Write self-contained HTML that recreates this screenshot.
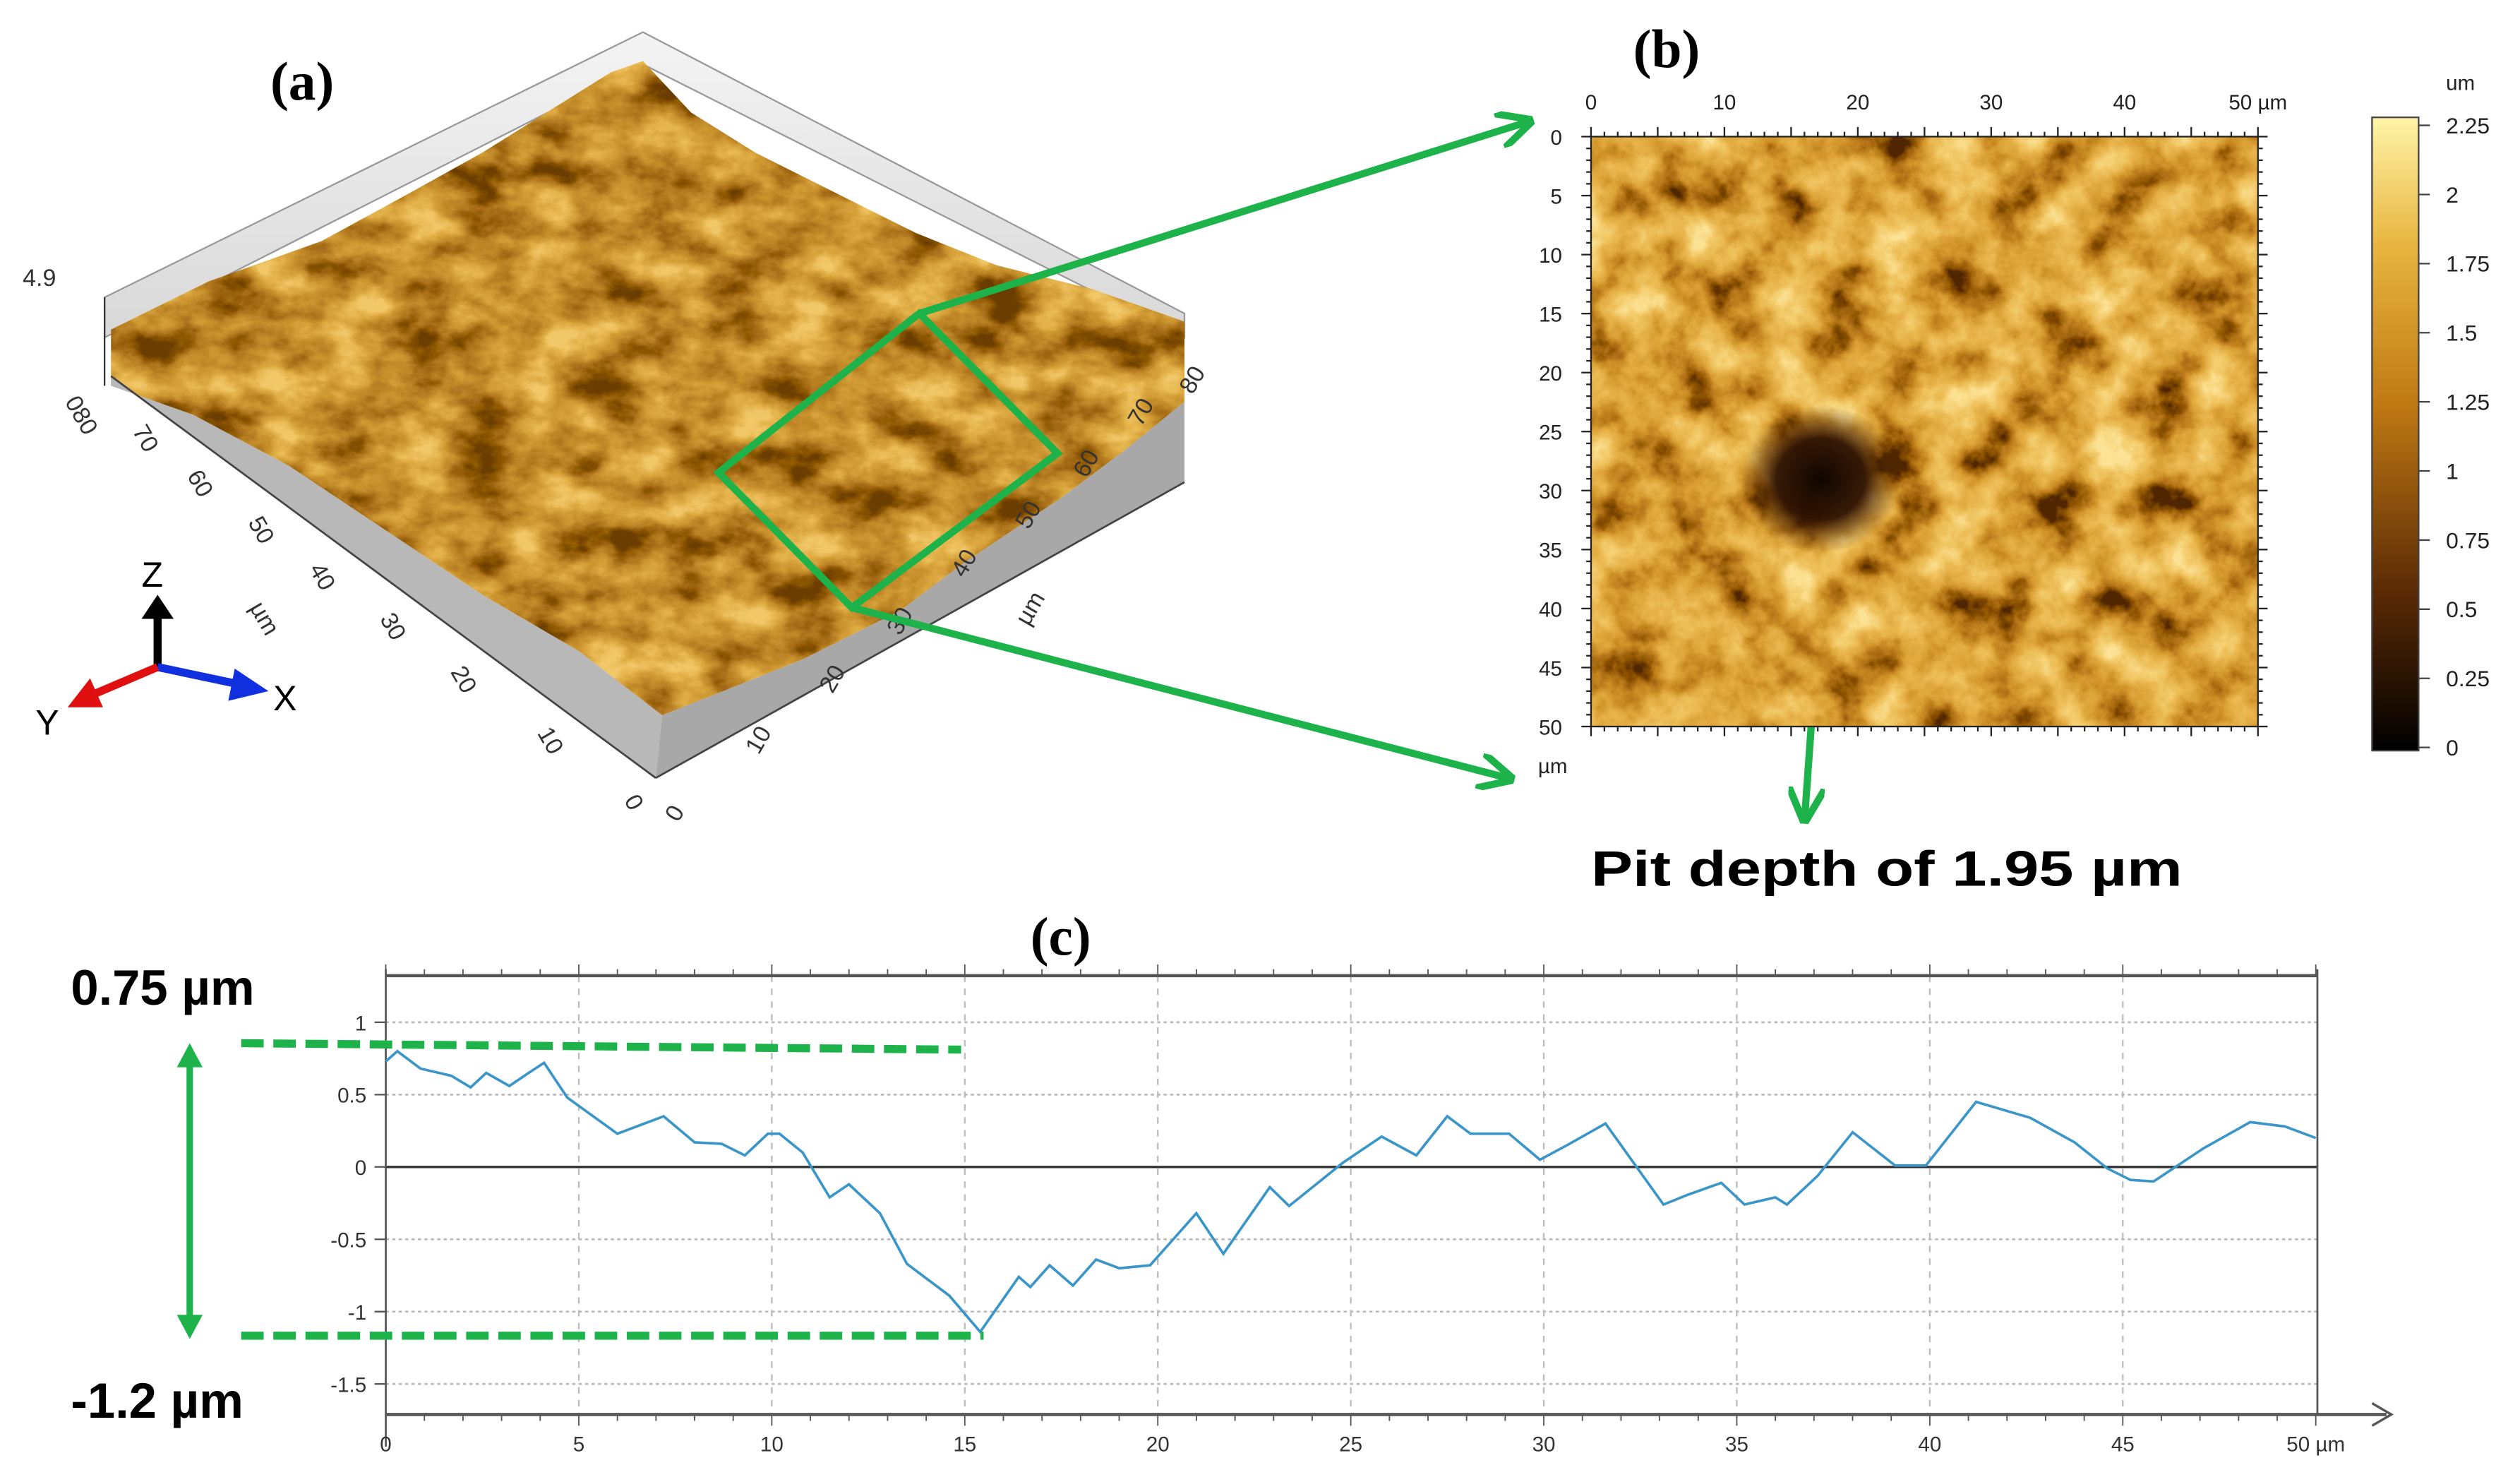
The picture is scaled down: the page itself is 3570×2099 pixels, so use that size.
<!DOCTYPE html>
<html><head><meta charset="utf-8"><style>
html,body{margin:0;padding:0;background:#fff}
svg{display:block}
text{font-family:"Liberation Sans",sans-serif}
.ser{font-family:"Liberation Serif",serif;font-weight:bold}
</style></head><body>
<svg id="fig" width="3570" height="2099" viewBox="0 0 1568 922" xmlns="http://www.w3.org/2000/svg">
<defs>
<filter id="mapTex" x="0" y="0" width="1" height="1">
<feTurbulence type="fractalNoise" baseFrequency="0.03" numOctaves="5" seed="7"/>
<feColorMatrix type="matrix" values="1.6 0 0 0 -0.3 1.6 0 0 0 -0.3 1.6 0 0 0 -0.3 0 0 0 0 1"/>
<feComponentTransfer>
<feFuncR type="table" tableValues="0.08 0.25 0.45 0.6 0.72 0.8 0.86 0.92 0.97"/>
<feFuncG type="table" tableValues="0.02 0.08 0.17 0.27 0.37 0.45 0.54 0.64 0.76"/>
<feFuncB type="table" tableValues="0 0 0.01 0.02 0.04 0.07 0.11 0.18 0.3"/>
<feFuncA type="table" tableValues="1 1"/>
</feComponentTransfer>
<feComposite in2="SourceGraphic" operator="in"/>
</filter>
<filter id="surfTex" x="0" y="0" width="1" height="1">
<feTurbulence type="fractalNoise" baseFrequency="0.025 0.04" numOctaves="5" seed="3"/>
<feColorMatrix type="matrix" values="1.8 0 0 0 -0.4 1.8 0 0 0 -0.4 1.8 0 0 0 -0.4 0 0 0 0 1"/>
<feComponentTransfer>
<feFuncR type="table" tableValues="0.15 0.25 0.38 0.5 0.6 0.7 0.8 0.88"/>
<feFuncG type="table" tableValues="0.05 0.09 0.15 0.23 0.3 0.38 0.47 0.57"/>
<feFuncB type="table" tableValues="0 0 0.01 0.02 0.03 0.05 0.08 0.14"/>
<feFuncA type="table" tableValues="1 1"/>
</feComponentTransfer>
<feComposite in2="SourceGraphic" operator="in"/>
</filter>
<linearGradient id="cbar" x1="0" y1="1" x2="0" y2="0">
<stop offset="0" stop-color="#000"/><stop offset="0.25" stop-color="#5a2a05"/>
<stop offset="0.55" stop-color="#c07a14"/><stop offset="0.8" stop-color="#e8b640"/>
<stop offset="1" stop-color="#fff4a8"/>
</linearGradient>
<radialGradient id="pit"><stop offset="0" stop-color="#100500"/><stop offset="0.55" stop-color="#2e1203" stop-opacity="0.95"/><stop offset="1" stop-color="#5a2e08" stop-opacity="0"/></radialGradient>
<linearGradient id="backwall" x1="0" y1="0" x2="0" y2="1"><stop offset="0" stop-color="#f4f4f4"/><stop offset="1" stop-color="#d8d8d8"/></linearGradient>
<marker id="ga" viewBox="0 0 10 10" refX="8" refY="5" markerWidth="5" markerHeight="5" orient="auto"><path d="M0,0 L10,5 L0,10" fill="none" stroke="#1db34a" stroke-width="2"/></marker>
</defs>

<!-- Panel (a) -->
<g>
<text class="ser" x="188" y="62" font-size="34" text-anchor="middle">(a)</text>
<polygon points="65,185 400,20 737,195 737,210 400,40 65,210" fill="url(#backwall)" stroke="#999" stroke-width="1"/>
<line x1="65" y1="185" x2="65" y2="240" stroke="#333" stroke-width="1"/>
<text x="14" y="178" font-size="15" fill="#333">4.9</text>
<polygon points="69,205 130,175 200,150 255,120 300,95 340,70 380,45 400,38 430,70 470,95 520,120 570,145 620,165 680,180 737,200 737,250 700,280 660,310 600,350 560,380 500,410 450,430 412,445 360,405 300,370 240,330 180,290 120,258 69,240" fill="#b57414" filter="url(#surfTex)"/>
<polygon points="69,240 120,258 180,290 240,330 300,370 360,405 412,445 408,484 69,234" fill="#b8b8b8"/>
<polygon points="412,445 450,430 500,410 560,380 600,350 660,310 700,280 737,250 737,300 408,484" fill="#a8a8a8"/>
<line x1="69" y1="234" x2="408" y2="484" stroke="#444" stroke-width="1.2"/>
<line x1="408" y1="484" x2="737" y2="300" stroke="#444" stroke-width="1.2"/>
<g font-size="15" fill="#333">
<text transform="translate(40,250) rotate(60)">080</text>
<text transform="translate(82,268) rotate(60)">70</text>
<text transform="translate(116,296) rotate(60)">60</text>
<text transform="translate(154,325) rotate(60)">50</text>
<text transform="translate(192,354) rotate(60)">40</text>
<text transform="translate(236,385) rotate(60)">30</text>
<text transform="translate(280,418) rotate(60)">20</text>
<text transform="translate(334,456) rotate(60)">10</text>
<text transform="translate(388,498) rotate(60)">0</text>
<text transform="translate(155,378) rotate(60)">µm</text>
</g>
<g font-size="15" fill="#333">
<text transform="translate(422,512) rotate(-60)">0</text>
<text transform="translate(472,470) rotate(-60)">10</text>
<text transform="translate(518,432) rotate(-60)">20</text>
<text transform="translate(560,396) rotate(-60)">30</text>
<text transform="translate(600,360) rotate(-60)">40</text>
<text transform="translate(640,330) rotate(-60)">50</text>
<text transform="translate(676,298) rotate(-60)">60</text>
<text transform="translate(710,266) rotate(-60)">70</text>
<text transform="translate(742,246) rotate(-60)">80</text>
<text transform="translate(640,390) rotate(-60)">µm</text>
</g>
<g>
<line x1="98" y1="415" x2="98" y2="382" stroke="#000" stroke-width="5"/>
<polygon points="88,385 108,385 98,370" fill="#000"/>
<line x1="98" y1="415" x2="150" y2="426" stroke="#1030e0" stroke-width="5"/>
<polygon points="146,416 167,430 142,436" fill="#1030e0"/>
<line x1="98" y1="415" x2="58" y2="432" stroke="#e01010" stroke-width="5"/>
<polygon points="56,422 42,440 64,440" fill="#e01010"/>
<text x="88" y="365" font-size="22">Z</text>
<text x="170" y="442" font-size="22">X</text>
<text x="22" y="457" font-size="22">Y</text>
</g>
</g>

<!-- green zoom annotation -->
<g stroke="#1db34a" stroke-width="4.5" fill="none">
<polygon points="572,195 658,282 530,378 447,294"/>
<line x1="572" y1="195" x2="950" y2="76" marker-end="url(#ga)"/>
<line x1="530" y1="378" x2="938" y2="484" marker-end="url(#ga)"/>
<line x1="1135" y1="340" x2="1123" y2="508" marker-end="url(#ga)"/>
</g>

<!-- Panel (b) -->
<g>
<text class="ser" x="1037" y="42" font-size="34" text-anchor="middle">(b)</text>
<rect x="990" y="85" width="415" height="367" fill="#c08020" filter="url(#mapTex)"/>
<ellipse cx="1133" cy="298" rx="50" ry="46" fill="url(#pit)"/>
<rect x="990" y="85" width="415" height="367" fill="none" stroke="#222" stroke-width="1"/>
<g id="mapTicks" stroke="#222" stroke-width="1"></g>
<g font-size="13" fill="#222" id="mapLabels"></g>
<text x="957" y="481" font-size="13" fill="#222">µm</text>
<rect x="1476" y="73" width="29" height="394" fill="url(#cbar)" stroke="#444" stroke-width="1"/>
<text x="1522" y="56" font-size="13" fill="#222">um</text>
<g font-size="14" fill="#222" id="cbLabels"></g>
</g>
<text x="990" y="551" font-size="31" font-weight="bold" textLength="368" lengthAdjust="spacingAndGlyphs">Pit depth of 1.95 µm</text>

<!-- Panel (c) -->
<g>
<text class="ser" x="660" y="594" font-size="34" text-anchor="middle">(c)</text>
<g id="grid"></g>
<g id="axes"></g>
<polyline id="profile" fill="none" stroke="#3a95c8" stroke-width="1.6"/>
<g stroke="#1db34a">
<line x1="150" y1="649" x2="598" y2="653" stroke-width="5" stroke-dasharray="14,6"/>
<line x1="150" y1="831" x2="612" y2="831" stroke-width="5" stroke-dasharray="14,6"/>
<line x1="118" y1="658" x2="118" y2="824" stroke-width="4"/>
<polygon points="110,664 126,664 118,649" fill="#1db34a" stroke="none"/>
<polygon points="110,818 126,818 118,833" fill="#1db34a" stroke="none"/>
</g>
<text x="44" y="625" font-size="31" font-weight="bold">0.75 µm</text>
<text x="44" y="882" font-size="31" font-weight="bold">-1.2 µm</text>
</g>
</svg>
<script>
const profileX = [0,0.3,0.9,1.7,2.2,2.6,3.2,3.7,4.1,4.7,6.0,6.6,7.2,8.0,8.7,9.3,9.9,10.2,10.8,11.5,12.0,12.8,13.5,14.6,15.4,16.4,16.7,17.2,17.8,18.4,19.0,19.8,21.0,21.7,22.9,23.4,24.8,25.8,26.7,27.5,28.1,29.1,29.9,30.6,31.6,33.1,33.75,34.6,35.2,36.0,36.3,37.1,38.0,39.1,39.9,41.2,42.6,43.75,44.6,45.2,45.8,47.1,48.3,49.2,50];
const profileY = [0.73,0.80,0.68,0.63,0.55,0.65,0.56,0.65,0.72,0.48,0.23,0.29,0.35,0.17,0.16,0.08,0.23,0.23,0.10,-0.21,-0.12,-0.32,-0.67,-0.89,-1.14,-0.76,-0.83,-0.68,-0.82,-0.64,-0.70,-0.68,-0.32,-0.60,-0.14,-0.27,0.03,0.21,0.08,0.35,0.23,0.23,0.05,0.15,0.30,-0.26,-0.19,-0.11,-0.26,-0.21,-0.26,-0.06,0.24,0.01,0.01,0.45,0.34,0.17,-0.01,-0.09,-0.10,0.13,0.31,0.28,0.20];
const xTicks = [0,5,10,15,20,25,30,35,40,45,50];
const yTicks = [1,0.5,0,-0.5,-1,-1.5];
const mapTicks = [0,10,20,30,40,50];
const cbTicks = [0,0.25,0.5,0.75,1,1.25,1.5,1.75,2,2.25];

const NS='http://www.w3.org/2000/svg';
const X = v => 240 + v*(1441-240)/50;
const Y = v => 726 - v*90;
function mk(tag, parent, attrs){const e=document.createElementNS(NS,tag);for(const k in attrs)e.setAttribute(k,attrs[k]);parent.appendChild(e);return e;}

const grid=document.getElementById('grid'), axes=document.getElementById('axes');


xTicks.forEach(t=>{ if(t>0&&t<50){const l=mk('line',grid,{x1:X(t),x2:X(t),y1:607,y2:880,stroke:'#bbb','stroke-width':1,'stroke-dasharray':'4,4'});

}});
yTicks.forEach(t=>{ if(t!==0){const l=mk('line',grid,{x1:240,x2:1442,y1:Y(t),y2:Y(t),stroke:'#bbb','stroke-width':1.2,'stroke-dasharray':'2,2'});

}});
mk('line',axes,{x1:240,x2:1442,y1:Y(0),y2:Y(0),stroke:'#333','stroke-width':1.5});
mk('line',axes,{x1:240,x2:1442,y1:607,y2:607,stroke:'#555','stroke-width':2});
mk('line',axes,{x1:240,x2:1485,y1:880,y2:880,stroke:'#555','stroke-width':2});
mk('path',axes,{d:'M1476,873 L1488,880 L1476,887',fill:'none',stroke:'#555','stroke-width':1.5});
mk('line',axes,{x1:240,x2:240,y1:603,y2:900,stroke:'#555','stroke-width':1.2});
mk('line',axes,{x1:1442,x2:1442,y1:603,y2:880,stroke:'#555','stroke-width':1.2});
for(let v=0;v<=50;v+=1){const len=(v%5===0)?7:4;
 mk('line',axes,{x1:X(v),x2:X(v),y1:607-len,y2:607,stroke:'#555','stroke-width':0.8});
 mk('line',axes,{x1:X(v),x2:X(v),y1:880,y2:880+len,stroke:'#555','stroke-width':0.8});}
xTicks.forEach(t=>{const tx=mk('text',axes,{x:X(t),y:903,'font-size':13,'text-anchor':'middle',fill:'#333'});tx.textContent=t===50?'50 µm':t;

});
yTicks.forEach(t=>{const tx=mk('text',axes,{x:228,y:Y(t)+5,'font-size':13,'text-anchor':'end',fill:'#333'});tx.textContent=t;


mk('line',axes,{x1:233,x2:240,y1:Y(t),y2:Y(t),stroke:'#555','stroke-width':1});});
document.getElementById('profile').setAttribute('points',profileX.map((x,i)=>X(x).toFixed(1)+','+Y(profileY[i]).toFixed(1)).join(' '));

const MX=v=>990+v*415/50, MY=v=>85+v*367/50;
const mt=document.getElementById('mapTicks'), ml=document.getElementById('mapLabels');
for(let v=0;v<=50;v+=1){const len=(v%5===0)?6:3;
 mk('line',mt,{x1:MX(v),x2:MX(v),y1:85-len,y2:85});
 mk('line',mt,{x1:MX(v),x2:MX(v),y1:452,y2:452+len});
 mk('line',mt,{x1:990-len,x2:990,y1:MY(v),y2:MY(v)});
 mk('line',mt,{x1:1405,x2:1405+len,y1:MY(v),y2:MY(v)});}
mapTicks.forEach(t=>{const a=mk('text',ml,{x:MX(t),y:68,'text-anchor':'middle'});a.textContent=t===50?'50 µm':t;

});
for(let v=0;v<=50;v+=5){const b=mk('text',ml,{x:972,y:MY(v)+5,'text-anchor':'end'});b.textContent=v;

}
const cb=document.getElementById('cbLabels');
cbTicks.forEach(t=>{const y=465-t*(465-78)/2.25;const c=mk('text',cb,{x:1522,y:y+5});c.textContent=t;


mk('line',cb,{x1:1505,x2:1512,y1:y,y2:y,stroke:'#444'});});
</script>
</body></html>
